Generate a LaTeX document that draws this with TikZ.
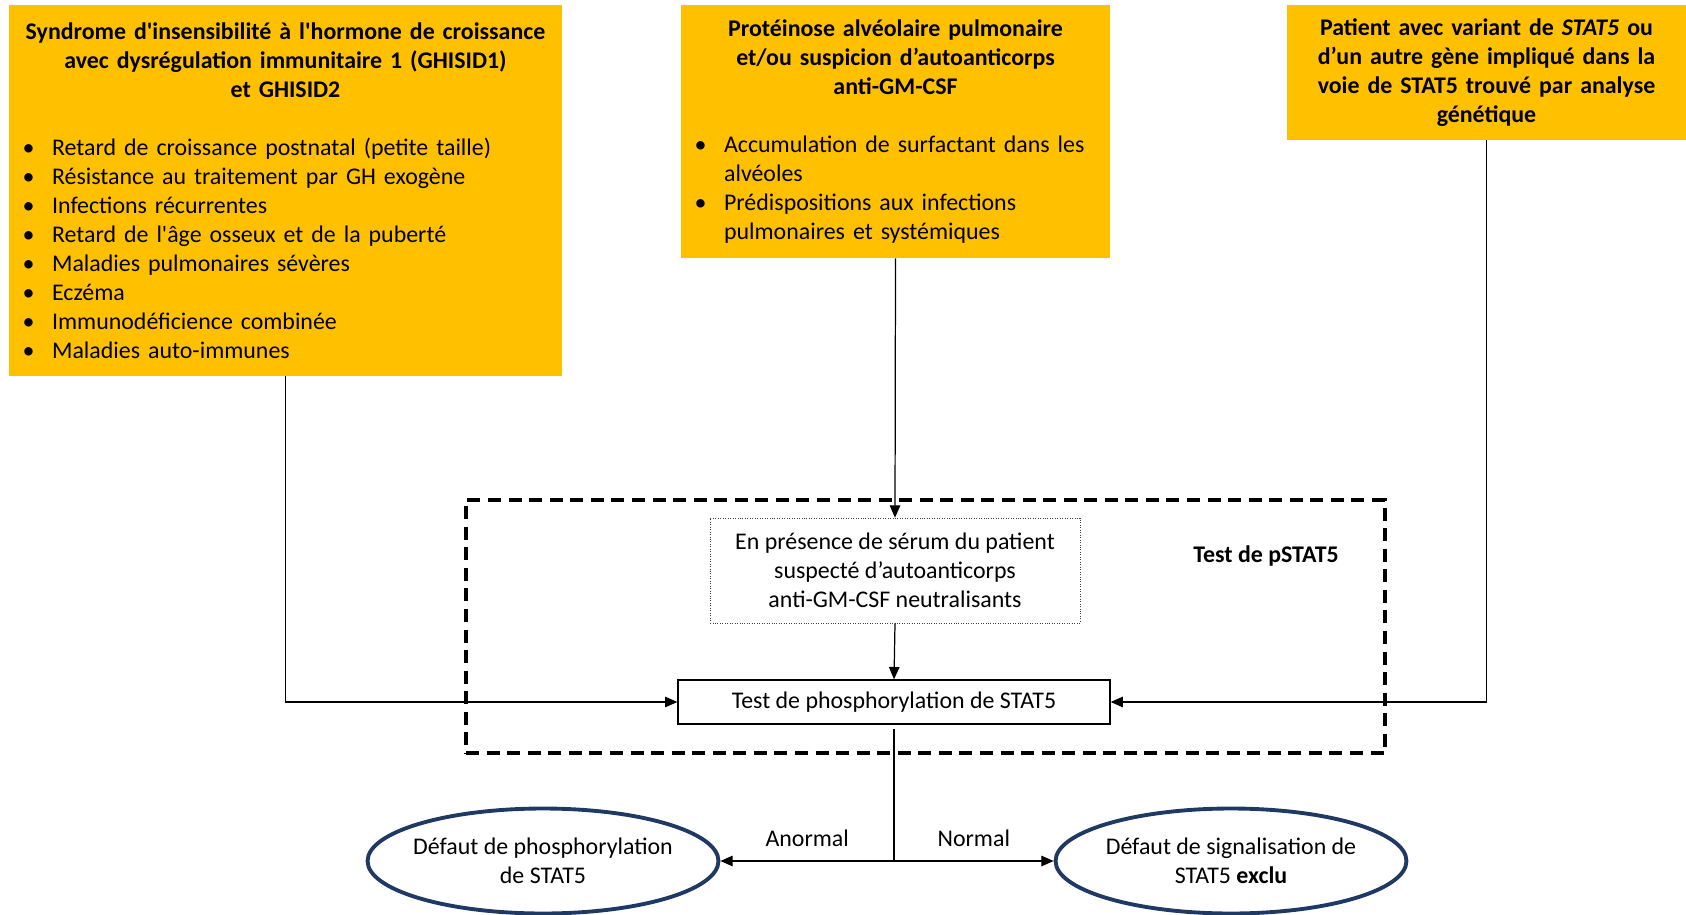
\documentclass[tikz,border=0pt]{standalone}
\usepackage{fontspec}
\setmainfont{Carlito}
\usetikzlibrary{shapes.geometric, arrows.meta, positioning}
\definecolor{jaunebox}{HTML}{FFC000}
\definecolor{bleuellipse}{HTML}{203864}
\tikzstyle{jaune} = [rectangle, fill=jaunebox, inner xsep=0pt, inner ysep=0pt]
\tikzstyle{pointille} = [rectangle, draw=black!75, densely dotted, thin, align=center, minimum width=7.4cm, minimum height=2.1cm]
\tikzstyle{boite} = [rectangle, draw=black, line width=0.8pt, minimum width=8.64cm, minimum height=0.88cm]
\tikzstyle{issue} = [ellipse, draw=bleuellipse, line width=2.2pt, align=center, minimum width=7.02cm, minimum height=2.1cm, inner xsep=-3.5pt, inner ysep=0pt]
\tikzstyle{cadre} = [rectangle, draw=black, line width=2pt, dash pattern=on 7.4pt off 4.3pt, minimum width=18.38cm, minimum height=5.06cm]
\tikzstyle{fleche} = [line width=0.7pt, -{Triangle[length=7pt,width=6pt]}]
\newcommand{\puce}[1]{\par\noindent\hangindent=24.5pt\hangafter=1\hspace*{7.7pt}\makebox[16.8pt][l]{\textbullet}#1}

\begin{document}
\begin{tikzpicture}[x=0.02cm, y=-0.02cm, font=\fontsize{13.6}{16.5}\selectfont]
\useasboundingbox (0,0) rectangle (1686,915);

    % les trois situations de depart
    \node (ghisid) [jaune, text width=11.06cm, minimum height=7.42cm] at (285.5,190.5) {%
        {\centering\bfseries Syndrome d\textquotesingle insensibilité à l\textquotesingle hormone de croissance\\
        avec dysrégulation immunitaire 1 (GHISID1)\\ et GHISID2\par}
        \vspace{16.5pt}
        \raggedright
        \puce{Retard de croissance postnatal (petite taille)}
        \puce{Résistance au traitement par GH exogène}
        \puce{Infections récurrentes}
        \puce{Retard de l\textquotesingle âge osseux et de la puberté}
        \puce{Maladies pulmonaires sévères}
        \puce{Eczéma}
        \puce{Immunodéficience combinée}
        \puce{Maladies auto-immunes}\par};

    \node (pap) [jaune, text width=8.58cm, minimum height=5.06cm] at (895.5,131.5) {%
        {\centering\bfseries Protéinose alvéolaire pulmonaire\\
        et/ou suspicion d’autoanticorps\\ anti-GM-CSF\par}
        \vspace{16.5pt}
        \raggedright
        \puce{Accumulation de surfactant dans les\newline alvéoles}
        \puce{Prédispositions aux infections\newline pulmonaires et systémiques}\par};

    \node (variant) [jaune, text width=7.98cm, minimum height=2.7cm, align=center, font=\fontsize{13.6}{16.5}\selectfont\bfseries] at (1486.5,72.5)
        {Patient avec variant de \textit{STAT5} ou\\ d’un autre gène impliqué dans la\\ voie de STAT5 trouvé par analyse\\ génétique};

    % le test
    \node (cadre) [cadre] at (925.5,626.5) {};
    \node (titretest) [font=\fontsize{13.6}{16.5}\selectfont\bfseries] at (1266,556) {Test de pSTAT5};
    \node (serum) [pointille] at (895,570.5) {En présence de sérum du patient\\ suspecté d’autoanticorps\\ anti-GM-CSF neutralisants};
    \node (test) [boite] at (894,702) {Test de phosphorylation de STAT5};

    % les issues
    \node (defaut) [issue] at (543,861) {Défaut de phosphorylation\\ de STAT5};
    \node (exclu) [issue] at (1231,861) {Défaut de signalisation de\\ STAT5 \textbf{exclu}};

    \draw[fleche] (ghisid.south) |- (test.west);
    \draw[fleche] (variant.south) |- (test.east);
    \draw[fleche] (pap.south) -- (serum.north);
    \draw[fleche] (serum.south) -- (test.north);

    \coordinate (jonction) at (test.south |- defaut.east);
    \draw[line width=0.7pt, shorten <=2.5pt] (test.south) -- (jonction);
    \draw[fleche] (jonction) -- node[above=4.5pt] {Anormal} (defaut.east);
    \draw[fleche] (jonction) -- node[above=4.5pt] {Normal} (exclu.west);

\end{tikzpicture}
\end{document}
